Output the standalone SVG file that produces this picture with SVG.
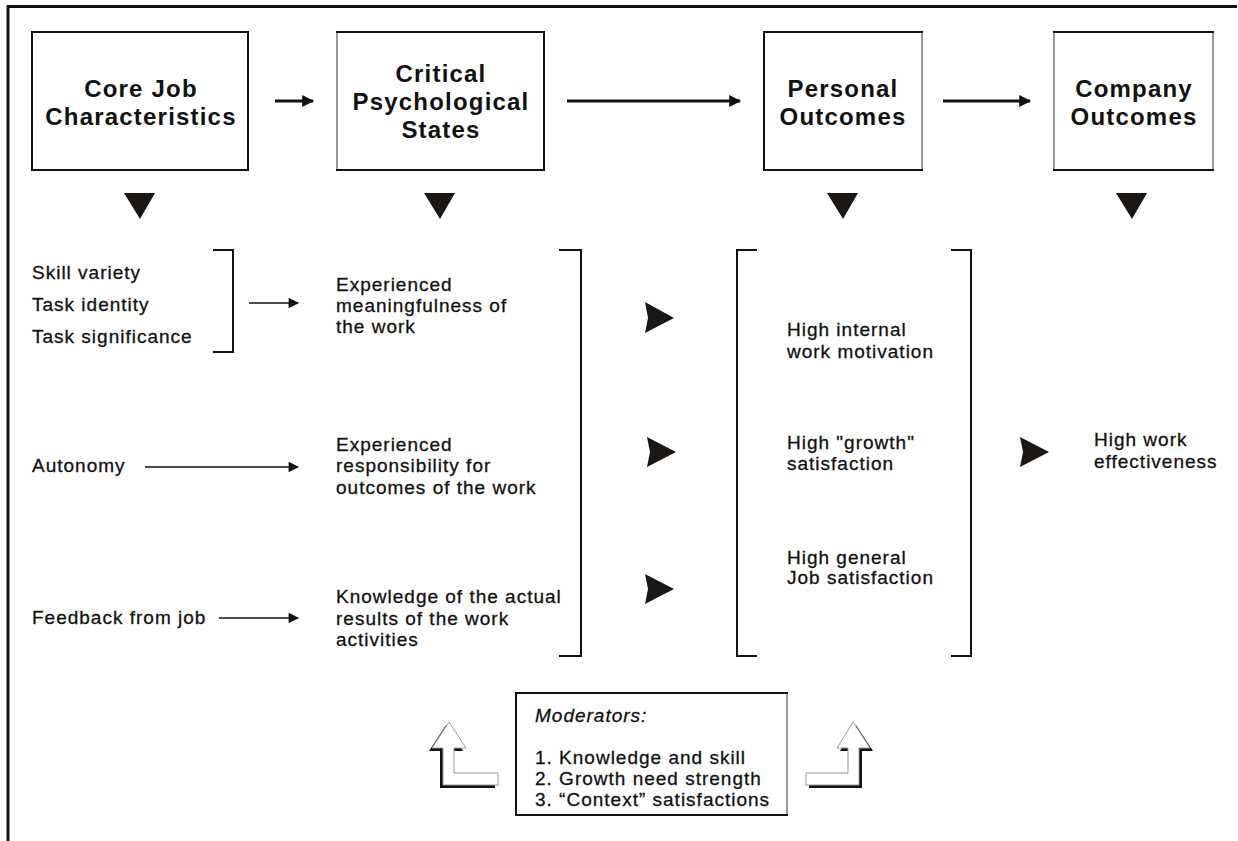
<svg xmlns="http://www.w3.org/2000/svg" width="1238" height="841" viewBox="0 0 1238 841">
<style>
.title{font-family:"Liberation Sans",Arial,sans-serif;font-weight:bold;font-size:24px;letter-spacing:1.2px;fill:#111;text-anchor:middle}
.body{font-family:"Liberation Sans",Arial,sans-serif;font-size:19px;letter-spacing:1px;fill:#111;stroke:#111;stroke-width:0.3}
.box{fill:#fff;stroke:#111;stroke-width:2}
.light{stroke:#c8c8c8;stroke-width:1.5}
.ln{stroke:#111;stroke-width:2;fill:none}
.thick{stroke:#111;stroke-width:3;fill:none}
.thin{stroke:#111;stroke-width:1.6;fill:none}
.tri{fill:#1a1714}
</style>
<defs>
<marker id="hd" viewBox="0 0 10 10" refX="9" refY="5" markerWidth="4.5" markerHeight="4" orient="auto" markerUnits="strokeWidth">
<path d="M0,0 L10,5 L0,10 z" fill="#111"/>
</marker>
<marker id="hs" viewBox="0 0 10 10" refX="9" refY="5" markerWidth="8" markerHeight="6.5" orient="auto" markerUnits="strokeWidth">
<path d="M0,0 L10,5 L0,10 z" fill="#111"/>
</marker>
</defs>
<rect x="0" y="0" width="1238" height="841" fill="#fff"/>
<g id="frame">
<path class="thick" d="M8,841 V6.5 H1237"/>
</g>

<g id="node-core">
<rect class="box" x="32" y="32" width="216" height="138"/>
<text class="title" x="141" y="97">Core Job</text>
<text class="title" x="141" y="125">Characteristics</text>
</g>
<g id="node-critical">
<rect class="box" x="337" y="32" width="207" height="138"/>
<line class="light" x1="337" y1="33" x2="337" y2="169"/>
<text class="title" x="441" y="82">Critical</text>
<text class="title" x="441" y="110">Psychological</text>
<text class="title" x="441" y="138">States</text>
</g>
<g id="node-personal">
<rect class="box" x="764" y="32" width="158" height="138"/>
<line class="light" x1="922" y1="33" x2="922" y2="169"/>
<text class="title" x="843" y="97">Personal</text>
<text class="title" x="843" y="125">Outcomes</text>
</g>
<g id="node-company">
<rect class="box" x="1054" y="32" width="159" height="138"/>
<line class="light" x1="1054" y1="33" x2="1054" y2="169"/>
<line class="light" x1="1213" y1="33" x2="1213" y2="169"/>
<text class="title" x="1134" y="97">Company</text>
<text class="title" x="1134" y="125">Outcomes</text>
</g>

<g id="connectors">
<line class="thick" x1="275" y1="101" x2="313" y2="101" marker-end="url(#hd)"/>
<line class="thick" x1="567" y1="101" x2="740" y2="101" marker-end="url(#hd)"/>
<line class="thick" x1="943" y1="101" x2="1030" y2="101" marker-end="url(#hd)"/>
<polygon class="tri" points="124,193 155,193 140,219"/>
<polygon class="tri" points="424,193 455,193 440,219"/>
<polygon class="tri" points="827,193 858,193 843,219"/>
<polygon class="tri" points="1116,193 1147,193 1132,219"/>
<line class="thin" x1="249" y1="303" x2="298" y2="303" marker-end="url(#hs)"/>
<line class="thin" x1="145" y1="467" x2="298" y2="467" marker-end="url(#hs)"/>
<line class="thin" x1="219" y1="618" x2="298" y2="618" marker-end="url(#hs)"/>
<polygon class="tri" points="645,302 674,318 645,333 648,318"/>
<polygon class="tri" points="647,437 676,452 647,467 650,452"/>
<polygon class="tri" points="645,574 674,589 645,604 648,589"/>
<polygon class="tri" points="1020,437 1049,452 1020,467 1023,452"/>
<path class="ln" d="M213,250 H233 V352 H213"/>
<path class="ln" d="M559,250 H581 V656 H559"/>
<path class="ln" d="M757,250 H737 V656 H757"/>
<path class="ln" d="M951,250 H971 V656 H951"/>
</g>

<g id="left-texts">
<text class="body" x="32" y="279">Skill variety</text>
<text class="body" x="32" y="311">Task identity</text>
<text class="body" x="32" y="343">Task significance</text>
<text class="body" x="32" y="472">Autonomy</text>
<text class="body" x="32" y="624">Feedback from job</text>
</g>
<g id="states-texts">
<text class="body" x="336" y="291">Experienced</text>
<text class="body" x="336" y="312">meaningfulness of</text>
<text class="body" x="336" y="333">the work</text>
<text class="body" x="336" y="451">Experienced</text>
<text class="body" x="336" y="472">responsibility for</text>
<text class="body" x="336" y="494">outcomes of the work</text>
<text class="body" x="336" y="603">Knowledge of the actual</text>
<text class="body" x="336" y="625">results of the work</text>
<text class="body" x="336" y="646">activities</text>
</g>
<g id="personal-texts">
<text class="body" x="787" y="336">High internal</text>
<text class="body" x="787" y="358">work motivation</text>
<text class="body" x="787" y="449">High "growth"</text>
<text class="body" x="787" y="470">satisfaction</text>
<text class="body" x="787" y="564">High general</text>
<text class="body" x="787" y="584">Job satisfaction</text>
</g>
<g id="company-texts">
<text class="body" x="1094" y="446">High work</text>
<text class="body" x="1094" y="468">effectiveness</text>
</g>

<g id="node-moderators">
<rect class="box" x="516" y="693" width="271" height="122"/>
<line class="light" x1="787" y1="694" x2="787" y2="814"/>
<text class="body" x="535" y="722" font-style="italic">Moderators:</text>
<text class="body" x="535" y="764">1. Knowledge and skill</text>
<text class="body" x="535" y="785">2. Growth need strength</text>
<text class="body" x="535" y="806">3. “Context” satisfactions</text>
</g>

<g id="bent-arrow-left">
<polygon points="446,725 463,751 451,751 451,776 495,776 495,788 440,788 440,751 429,751" fill="#111"/>
<polygon points="449,722 466,748 454,748 454,773 498,773 498,785 443,785 443,748 432,748" fill="#fff" stroke="#999" stroke-width="1"/>
</g>
<g id="bent-arrow-right">
<polygon points="856,725 873,751 862,751 862,788 809,788 809,776 851,776 851,751 840,751" fill="#111"/>
<polygon points="853,722 870,748 859,748 859,785 806,785 806,773 848,773 848,748 837,748" fill="#fff" stroke="#999" stroke-width="1"/>
</g>
</svg>
